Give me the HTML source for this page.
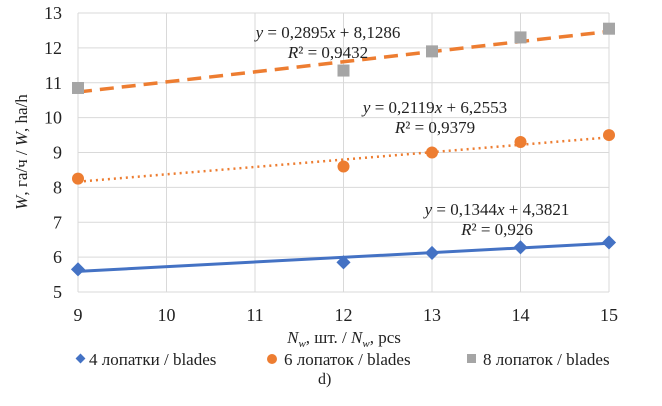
<!DOCTYPE html>
<html><head><meta charset="utf-8"><style>
body{margin:0;background:#fff;}
svg{display:block;}
svg text{font-family:"Liberation Serif","DejaVu Serif",serif;}
</style></head><body>
<svg id="chart" width="662" height="406" font-family="Liberation Serif, serif"></svg>
<script>
const xCats=[9,12,13,14,15];
const s4=[5.65,5.85,6.12,6.28,6.42];
const s6=[8.25,8.6,9.0,9.3,9.5];
const s8=[10.85,11.35,11.9,12.3,12.55];
const trendSlope=[0.1344,0.2119,0.2895];
const trendIntercept=[4.3821,6.2553,8.1286];
const xTicks=[9,10,11,12,13,14,15];
const yTicks=[5,6,7,8,9,10,11,12,13];
const NS="http://www.w3.org/2000/svg";
const svg=document.getElementById('chart');
const X=v=>78+(v-9)*(609-78)/6;
const Y=v=>292-(v-5)*(292-13)/8;
function el(t,a,p){const e=document.createElementNS(NS,t);for(const k in a)e.setAttribute(k,a[k]);if(t==='text')e.setAttribute('font-family','Liberation Serif, serif');(p||svg).appendChild(e);return e;}
function txt(s,a){const e=el('text',a);e.innerHTML=s;return e;}
yTicks.forEach(v=>{const l=el('line',{x1:78,x2:609,y1:Y(v),y2:Y(v),stroke:'#d9d9d9','stroke-width':1});

const t=txt(v,{x:62,y:Y(v)+6,'font-size':18,'text-anchor':'end',fill:'#222'});
});
xTicks.forEach(v=>{const l=el('line',{x1:X(v),x2:X(v),y1:13,y2:292,stroke:'#d9d9d9','stroke-width':1});

const t=txt(v,{x:X(v),y:321,'font-size':18,'text-anchor':'middle',fill:'#222'});
});
const tStyles=[{stroke:'#4472c4','stroke-width':3},{stroke:'#ed7d31','stroke-width':2.5,'stroke-dasharray':'2 4'},{stroke:'#ed7d31','stroke-width':3.5,'stroke-dasharray':'14 8'}];
trendSlope.forEach((m,i)=>{const a={x1:X(9),x2:X(15),y1:Y(m*9+trendIntercept[i]),y2:Y(m*15+trendIntercept[i]),...tStyles[i]};
const l=el('line',a);});
xCats.forEach((x,i)=>{
const d=el('rect',{x:X(x)-5,y:Y(s4[i])-5,width:10,height:10,fill:'#4472c4',transform:`rotate(45 ${X(x)} ${Y(s4[i])})`});

const c=el('circle',{cx:X(x),cy:Y(s6[i]),r:6,fill:'#ed7d31'});

const r=el('rect',{x:X(x)-6,y:Y(s8[i])-6,width:12,height:12,fill:'#a5a5a5'});
});
const eqs=[['<tspan font-style="italic">y</tspan> = 0,2895<tspan font-style="italic">x</tspan> + 8,1286','<tspan font-style="italic">R</tspan>² = 0,9432',328,38],
['<tspan font-style="italic">y</tspan> = 0,2119<tspan font-style="italic">x</tspan> + 6,2553','<tspan font-style="italic">R</tspan>² = 0,9379',435,113],
['<tspan font-style="italic">y</tspan> = 0,1344<tspan font-style="italic">x</tspan> + 4,3821','<tspan font-style="italic">R</tspan>² = 0,926',497,215]];
eqs.forEach(e=>{const g=el('g',{});
const a=el('text',{x:e[2],y:e[3],'font-size':17,'text-anchor':'middle',fill:'#222'},g);a.innerHTML=e[0];
const b=el('text',{x:e[2],y:e[3]+20,'font-size':17,'text-anchor':'middle',fill:'#222'},g);b.innerHTML=e[1];});
let t=txt('<tspan font-style="italic">N<tspan font-size="11" dy="4">w</tspan></tspan><tspan dy="-4">, шт. / </tspan><tspan font-style="italic">N<tspan font-size="11" dy="4">w</tspan></tspan><tspan dy="-4">, pcs</tspan>',{x:344,y:343,'font-size':17,'text-anchor':'middle',fill:'#222'});

t=txt('<tspan font-style="italic">W</tspan>, га/ч / <tspan font-style="italic">W</tspan>, ha/h',{x:0,y:0,'font-size':17,'text-anchor':'middle',fill:'#222',transform:'translate(27 152) rotate(-90)'});

let g=el('g',{});
el('rect',{x:77,y:355,width:7,height:7,fill:'#4472c4',transform:'rotate(45 80.5 358.5)'},g);
el('text',{x:89,y:365,'font-size':17,fill:'#222'},g).textContent='4 лопатки / blades';
g=el('g',{});
el('circle',{cx:272,cy:359,r:5,fill:'#ed7d31'},g);
el('text',{x:284,y:365,'font-size':17,fill:'#222'},g).textContent='6 лопаток / blades';
g=el('g',{});
el('rect',{x:467,y:354,width:9,height:9,fill:'#a5a5a5'},g);
el('text',{x:483,y:365,'font-size':17,fill:'#222'},g).textContent='8 лопаток / blades';
t=txt('d)',{x:318,y:384,'font-size':16,fill:'#222'});

</script>
</body></html>
